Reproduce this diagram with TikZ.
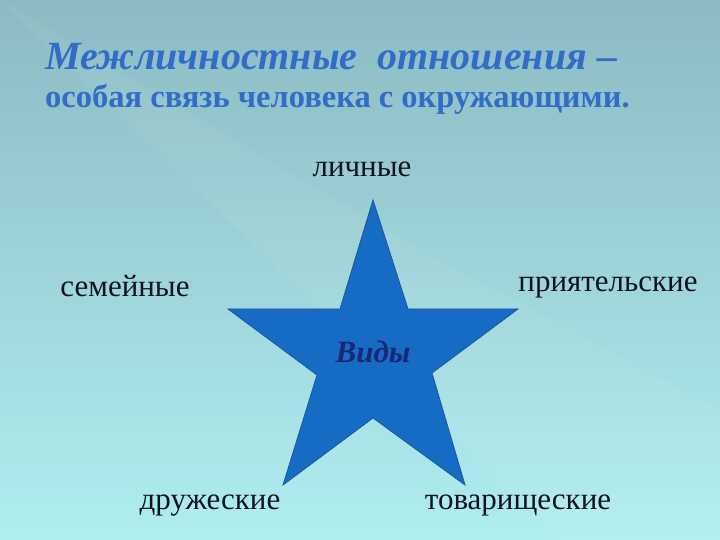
\documentclass[tikz,border=0pt]{standalone}
\usepackage{fontspec}
\setmainfont{Liberation Serif}
\usepackage{xcolor}
\usetikzlibrary{positioning}
\definecolor{bgtop}{RGB}{140,186,195}
\definecolor{bgbottom}{RGB}{176,238,240}
\definecolor{starfill}{RGB}{22,108,196}
\definecolor{stardraw}{RGB}{28,84,158}
\definecolor{titleblue}{RGB}{50,108,200}
\definecolor{vidyblue}{RGB}{24,40,118}
\definecolor{labeltext}{RGB}{14,20,30}

\begin{document}
\begin{tikzpicture}[x=1pt, y=1pt,
    kind/.style={anchor=base, inner sep=0pt, text=labeltext, font=\fontsize{31}{34}\selectfont},
    heading/.style={anchor=base west, inner sep=0pt, text=titleblue}]

    % Background
    \useasboundingbox (0,0) rectangle (720,540);
    \shade[top color=bgtop, bottom color=bgbottom] (0,0) rectangle (720,540);
    \fill[white, opacity=0.05] (0,540) -- (420,290) -- (720,130) -- (720,0) -- (560,0) -- cycle;

    % Title
    \node[heading, font=\fontsize{40}{46}\selectfont\itshape\bfseries] (title1) at (45,470)
        {Межличностные\ \ отношения –};
    \node[heading, font=\fontsize{32.5}{38}\selectfont\bfseries] (title2) at (45,432)
        {особая связь человека с окружающими.};

    % Star
    \filldraw[fill=starfill, draw=stardraw, line width=0.8pt]
        (373,340) -- (408,231) -- (518,231) -- (432,167) -- (465,55)
        -- (373,122) -- (283,55) -- (317,165) -- (228,231) -- (340,231) -- cycle;
    \node[anchor=base, inner sep=0pt, text=vidyblue, font=\fontsize{31}{34}\selectfont\itshape\bfseries]
        (vidy) at (373,177) {Виды};

    % Kinds
    \node[kind] (lichnye) at (362,363) {личные};
    \node[kind] (semeinye) at (125,243) {семейные};
    \node[kind] (priyatel) at (608,248) {приятельские};
    \node[kind] (druzh) at (210,30) {дружеские};
    \node[kind] (tovar) at (518,30) {товарищеские};
\end{tikzpicture}
\end{document}
